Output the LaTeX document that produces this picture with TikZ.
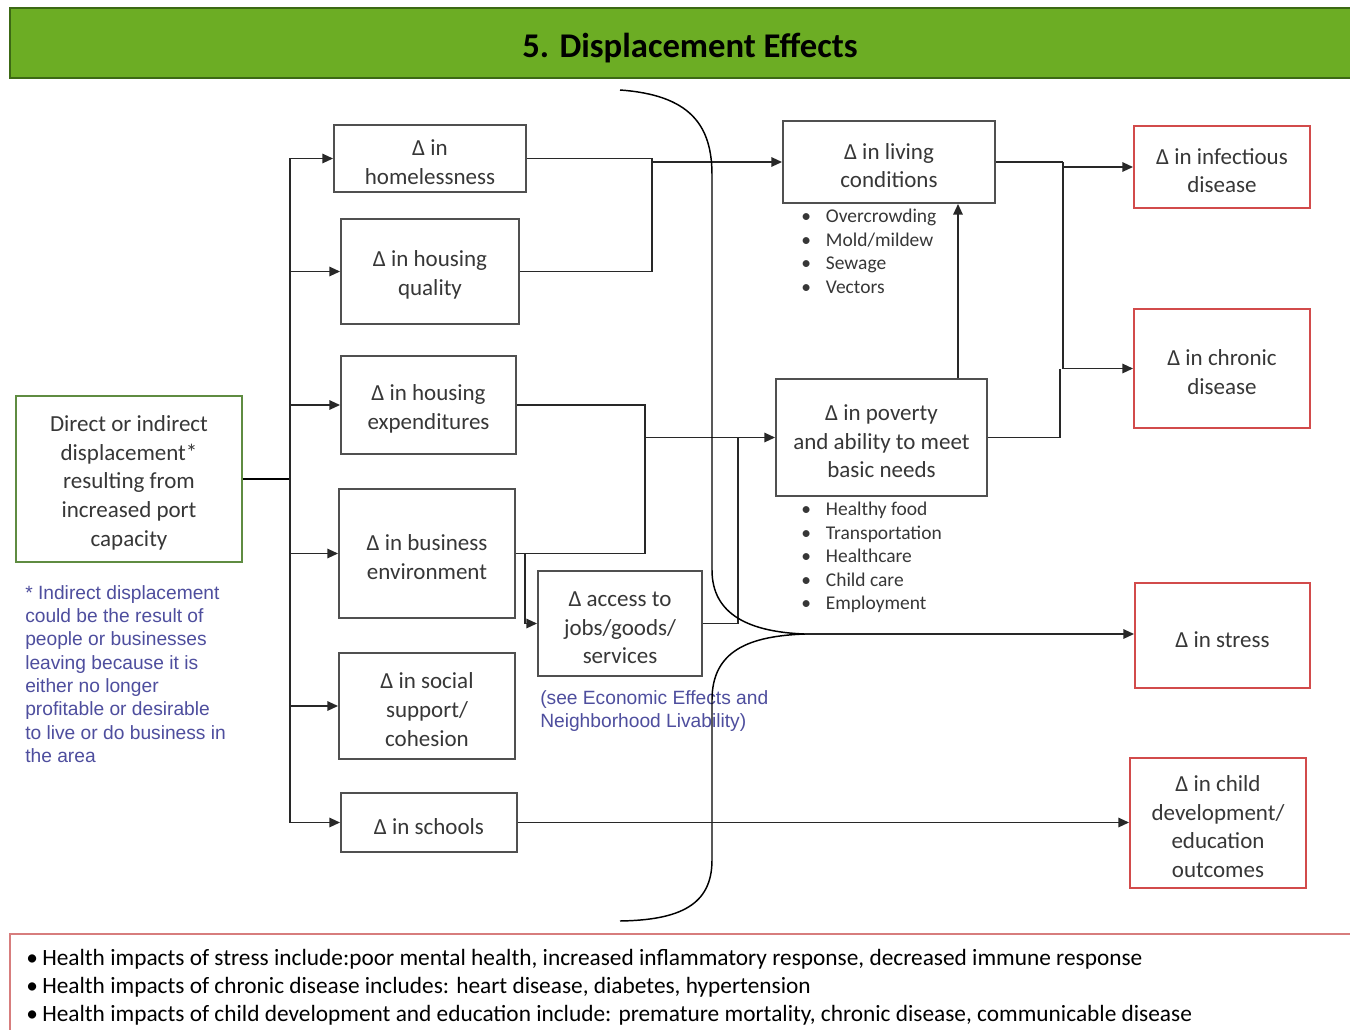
\documentclass[tikz,border=0pt]{standalone}
\usepackage{fontspec}
\setmainfont{Carlito}
\newfontfamily\arialf{Liberation Sans}
\usetikzlibrary{arrows.meta,calc}
\definecolor{hdrfill}{RGB}{108,173,36}
\definecolor{hdrline}{RGB}{60,105,20}
\definecolor{grnline}{RGB}{95,140,65}
\definecolor{boxline}{RGB}{80,80,80}
\definecolor{boxtext}{RGB}{55,55,55}
\definecolor{redline}{RGB}{210,75,75}
\definecolor{pinkline}{RGB}{215,125,125}
\definecolor{bluetext}{RGB}{78,78,158}
\definecolor{connc}{RGB}{40,40,40}
\tikzset{
  wh/.style 2 args={minimum width=#1*0.75pt, minimum height=#2*0.75pt},
  basebox/.style={draw, line width=1.4pt, align=center, text=boxtext, inner sep=2pt,
    font=\fontsize{17.25pt}{21.5pt}\selectfont},
  gbox/.style={basebox, draw=boxline},
  rbox/.style={basebox, draw=redline},
  srcbox/.style={basebox, draw=grnline},
  conn/.style={draw=connc, line width=1.4pt},
  arr/.style={conn, -{Triangle[length=8pt,width=7pt]}},
  bullets/.style={anchor=north west, align=left, inner sep=0pt, text=boxtext,
    font=\fontsize{14.6pt}{17.6pt}\selectfont},
  bluenote/.style={anchor=north west, align=left, inner sep=0pt, text=bluetext,
    font=\arialf\fontsize{14.4pt}{17.5pt}\selectfont},
  brace/.style={draw=black, line width=1.1pt}
}
\newcommand\bl{\makebox[18.5pt][l]{\textbullet}}
\newcommand\up{\rule{0pt}{17.5pt}}
\begin{document}
\begin{tikzpicture}[x=0.75pt,y=-0.75pt]
\clip (0,0) rectangle (1350,1029);
\fill[white] (0,0) rectangle (1350,1029);
% header
\draw[fill=hdrfill, draw=hdrline, line width=1.5pt] (10,8) rectangle (1360,78);
\node[font=\bfseries\fontsize{26pt}{30pt}\selectfont, text=black] (title) at (690,48) {5. Displacement Effects};
% source
\node[srcbox, wh={226}{166}, font=\fontsize{17.25pt}{21.5pt}\selectfont] (src) at (129,479)
  {\up Direct or indirect\\displacement*\\resulting from\\increased port\\capacity};
\node[bluenote] (note) at (25,585) {* Indirect displacement\\could be the result of\\people or businesses\\leaving because it is\\either no longer\\profitable or desirable\\to live or do business in\\the area};
% middle boxes
\node[gbox, wh={192}{67}] (home) at (430,158.5) {\up Δ in\\homelessness};
\node[gbox, wh={178}{105}] (qual) at (430,271.5) {\up Δ in housing\\quality};
\node[gbox, wh={175}{98}] (exp) at (428.5,405) {\up Δ in housing\\expenditures};
\node[gbox, wh={176}{129}] (bus) at (427,553.5) {\up Δ in business\\environment};
\node[gbox, wh={176}{106}] (soc) at (427,706) {\up Δ in social\\support/\\cohesion};
\node[gbox, wh={176}{59}] (sch) at (429,822.5) {\up Δ in schools};
\node[gbox, wh={164}{105}] (acc) at (620,623.5) {\up Δ access to\\jobs/goods/\\services};
\node[bluenote] (see) at (540,690) {(see Economic Effects and\\Neighborhood Livability)};
% right middle
\node[gbox, wh={212}{82}] (liv) at (889,162) {\up Δ in living\\conditions};
\node[bullets] (livl) at (801,209) {\bl Overcrowding\\\bl Mold/mildew\\\bl Sewage\\\bl Vectors};
\node[gbox, wh={211}{117}] (pov) at (881.5,437.5) {\up Δ in poverty\\and ability to meet\\basic needs};
\node[bullets] (povl) at (801,502) {\bl Healthy food\\\bl Transportation\\\bl Healthcare\\\bl Child care\\\bl Employment};
% outcomes
\node[rbox, wh={176}{82}] (inf) at (1222,167) {\up Δ in infectious\\disease};
\node[rbox, wh={176}{119}] (chr) at (1222,368.5) {\up Δ in chronic\\disease};
\node[rbox, wh={175}{105}] (str) at (1222.5,635.5) {\up Δ in stress};
\node[rbox, wh={176}{130}] (chd) at (1218,823) {\up Δ in child\\development/\\education\\outcomes};
% trunk
\coordinate (tr) at (290,479);
\draw[draw=black, line width=2.2pt] (src.east) -- (tr);
\draw[conn] (tr |- home.west) -- (tr |- qual.west);
\draw[draw=black, line width=1.8pt] (tr |- qual.west) -- (tr |- sch.west);
\foreach \n in {home,qual,exp,bus,soc,sch} \draw[arr] (tr) |- (\n.west);
% to living conditions
\coordinate (j1) at (652,162);
\draw[conn] (home.east) -| (j1);
\draw[conn] (qual.east) -| (j1);
\draw[arr] (j1) -- (liv.west);
% to poverty
\coordinate (j2) at (645,437.5);
\coordinate (j3) at (738,437.5);
\draw[conn] (exp.east) -| (j2);
\draw[conn] (bus.east) -| (j2);
\draw[arr] (j2) -- (pov.west);
\draw[conn] (acc.east) -| (j3);
\coordinate (j4) at (525,553.5);
\draw[arr] (j4) |- (acc.west);
% poverty -> living
\coordinate (vx) at (958,0);
\draw[arr] (vx |- pov.north) -- (vx |- liv.south);
% to outcomes
\coordinate (j5) at (1063,162);
\coordinate (j6) at (1060,368.5);
\draw[conn] (liv.east) -- (j5);
\draw[arr] (j5) |- (inf.west);
\draw[arr] (j5) |- (chr.west);
\draw[conn] (pov.east) -| (j6);
% brace
\coordinate (bt) at (805,634);
\draw[brace] (620,90) .. controls (690,95) and (712,125) .. (712,175) -- (712,570)
  .. controls (712,615) and (750,632) .. (bt)
  .. controls (750,636) and (712,650) .. (712,700) -- (712,860)
  .. controls (712,905) and (680,920) .. (620,921);
\draw[arr] (bt) -- (bt -| str.west);
\draw[arr] (sch.east) -- (sch.east -| chd.west);
% bottom box
\draw[draw=pinkline, line width=1.5pt] (10,934) rectangle (1360,1040);
\node[anchor=north west, align=left, inner sep=0pt, text=black,
  font=\fontsize{17.5pt}{21pt}\selectfont] (foot) at (26,949)
  {\makebox[12pt][l]{\textbullet}Health impacts of stress include:poor mental health, increased inflammatory response, decreased immune response\\
   \makebox[12pt][l]{\textbullet}Health impacts of chronic disease includes: heart disease, diabetes, hypertension\\
   \makebox[12pt][l]{\textbullet}Health impacts of child development and education include: premature mortality, chronic disease, communicable disease};
\end{tikzpicture}
\end{document}
